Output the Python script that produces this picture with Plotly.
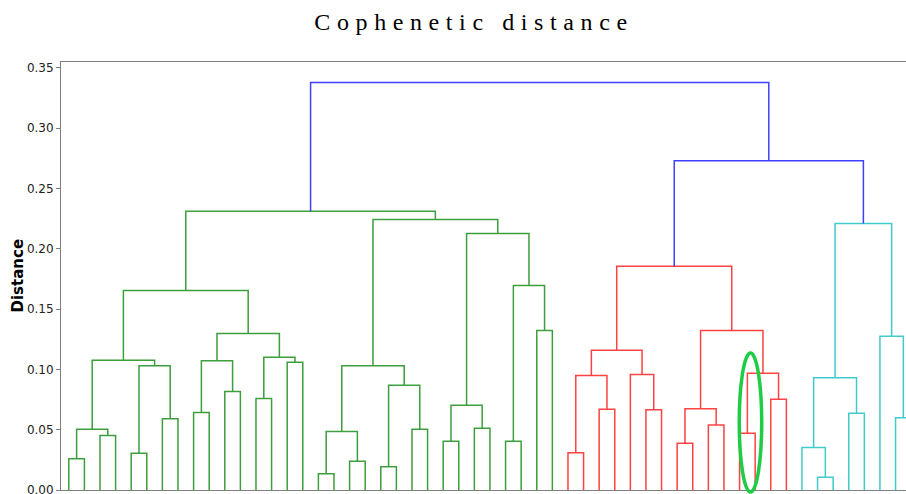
import plotly.graph_objects as go

# ---- Data: dendrogram linkage (leaves 0..54 in display order; merged nodes numbered 55+) ----
n_leaves = 55
merge_left = [0, 2, 55, 4, 6, 58, 57, 8, 10, 62, 12, 14, 65, 64, 61,
              16, 18, 70, 20, 22, 73, 72, 24, 26, 77, 28, 30, 80, 79, 76, 69,
              32, 34, 86, 37, 36, 88, 39, 41, 92, 43, 45, 95, 94, 91,
              48, 47, 50, 101, 53, 52, 103,
              99, 85]
merge_right = [1, 3, 56, 5, 7, 59, 60, 9, 11, 63, 13, 15, 66, 67, 68,
               17, 19, 71, 21, 23, 74, 75, 25, 27, 78, 29, 31, 81, 82, 83, 84,
               33, 35, 87, 38, 89, 90, 40, 42, 93, 44, 46, 96, 97, 98,
               49, 100, 51, 102, 54, 104, 105,
               106, 107]
merge_height = [0.0259, 0.0452, 0.0504, 0.0305, 0.0590, 0.1030, 0.1076, 0.0643, 0.0817, 0.1071,
                0.0759, 0.1060, 0.1100, 0.1298, 0.1654,
                0.0134, 0.0239, 0.0485, 0.0192, 0.0504, 0.0869, 0.1030, 0.0405, 0.0513, 0.0703,
                0.0405, 0.1323, 0.1696, 0.2127, 0.2243, 0.2312,
                0.0308, 0.0670, 0.0949, 0.0665, 0.0958, 0.1159, 0.0388, 0.0540, 0.0673, 0.0471,
                0.0753, 0.0969, 0.1323, 0.1856,
                0.0106, 0.0352, 0.0637, 0.0930, 0.0599, 0.1275, 0.2210,
                0.2730, 0.3380]
merge_cluster = ["g"] * 31 + ["r"] * 14 + ["c"] * 7 + ["b"] * 2

cluster_colors = {"g": "#3c9e3c", "r": "#ff4242", "c": "#40cccc", "b": "#4040ff"}

y_ticks = [0.00, 0.05, 0.10, 0.15, 0.20, 0.25, 0.30, 0.35]
x_range = [0, 541.7]
y_range = [0, 0.3549]

# highlight ellipse (data units): center x, center y, half width, half height
ellipse_cx, ellipse_cy, ellipse_rx, ellipse_ry = 442.0, 0.0560, 7.2, 0.0577

# ---- Build dendrogram coordinates ----
node_x = {i: 5 + 10 * i for i in range(n_leaves)}
node_h = {i: 0.0 for i in range(n_leaves)}
segs = {k: ([], []) for k in cluster_colors}
for j, (a, b, h) in enumerate(zip(merge_left, merge_right, merge_height)):
    nid = n_leaves + j
    xa, xb = node_x[a], node_x[b]
    node_x[nid] = (xa + xb) / 2
    node_h[nid] = h
    xs, ys = segs[merge_cluster[j]]
    xs += [xa, xa, xb, xb, None]
    ys += [node_h[a], h, h, node_h[b], None]

fig = go.Figure()
for key in ["g", "r", "c", "b"]:
    xs, ys = segs[key]
    fig.add_trace(go.Scatter(x=xs, y=ys, mode="lines",
                             line=dict(color=cluster_colors[key], width=1.5),
                             hoverinfo="skip", showlegend=False))

# ellipse in paper coordinates (avoid clipping at the axis)
def to_px(v):
    return (v - x_range[0]) / (x_range[1] - x_range[0])

def to_py(v):
    return (v - y_range[0]) / (y_range[1] - y_range[0])

fig.add_shape(type="circle", xref="paper", yref="paper",
              x0=to_px(ellipse_cx - ellipse_rx), x1=to_px(ellipse_cx + ellipse_rx),
              y0=to_py(ellipse_cy - ellipse_ry), y1=to_py(ellipse_cy + ellipse_ry),
              line=dict(color="#1fcc46", width=3.5), layer="above")

# y-axis label placed as rotated text
fig.add_annotation(text="<b>Distance</b>", xref="paper", yref="paper",
                   x=(17.5 - 61) / 845, y=0.5, xanchor="center", yanchor="middle",
                   textangle=-90, showarrow=False,
                   font=dict(family="DejaVu Sans", size=15, color="black"))

fig.update_layout(
    width=906, height=494,
    margin=dict(l=61, r=0, t=62, b=4),
    paper_bgcolor="white", plot_bgcolor="white",
    title=dict(text='<span style="letter-spacing:6.6px">Cophenetic distance</span>',
               font=dict(family="Liberation Serif", size=24, color="black"),
               x=474 / 906, xref="container", xanchor="center",
               y=1 - 22 / 494, yref="container", yanchor="middle"),
)
fig.update_xaxes(range=x_range, showticklabels=False, ticks="", showgrid=False,
                 zeroline=False, showline=True, linecolor="#808080", linewidth=1,
                 mirror=True, automargin=False)
fig.update_yaxes(range=y_range, tickvals=y_ticks, tickformat=".2f", ticks="outside",
                 ticklen=4, tickcolor="#808080", showgrid=False, zeroline=False,
                 showline=True, linecolor="#808080", linewidth=1,
                 ticklabeloverflow="allow", automargin=False,
                 tickfont=dict(family="DejaVu Sans", size=12, color="#222222"))

fig.write_html("out.html")
